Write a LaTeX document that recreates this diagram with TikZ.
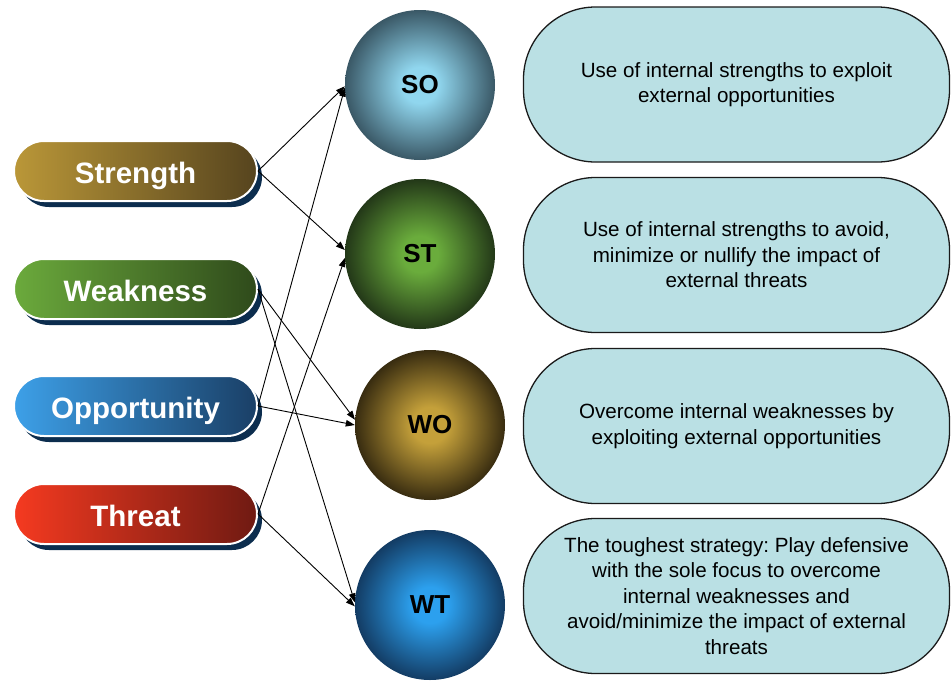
\documentclass[tikz,border=0pt]{standalone}
\usepackage{fontspec}
\setmainfont{Liberation Sans}
\usetikzlibrary{arrows.meta,shadows}
\frenchspacing

% pill colours
\definecolor{strL}{HTML}{BA9738}\definecolor{strR}{HTML}{56441E}
\definecolor{weaL}{HTML}{6BAA3C}\definecolor{weaR}{HTML}{2F4A1B}
\definecolor{oppL}{HTML}{3DA0E8}\definecolor{oppR}{HTML}{1A3F66}
\definecolor{thrL}{HTML}{F53A20}\definecolor{thrR}{HTML}{6F1A12}
\definecolor{pillshadow}{HTML}{0C2D4E}
% ball colours
\definecolor{soC}{HTML}{90D6EE}\definecolor{soE}{HTML}{3A5866}
\definecolor{stC}{HTML}{6AAC3C}\definecolor{stE}{HTML}{233818}
\definecolor{woC}{HTML}{C4A03A}\definecolor{woE}{HTML}{382C10}
\definecolor{wtC}{HTML}{2CA0EE}\definecolor{wtE}{HTML}{133C64}
% description boxes
\definecolor{boxfill}{HTML}{BAE0E4}
\definecolor{boxline}{HTML}{1A1A1A}

\pgfdeclareradialshading{soball}{\pgfpoint{0bp}{0bp}}{color(0bp)=(soC); color(6bp)=(soC); color(25bp)=(soE); color(50bp)=(soE)}
\pgfdeclareradialshading{stball}{\pgfpoint{0bp}{0bp}}{color(0bp)=(stC); color(6bp)=(stC); color(25bp)=(stE); color(50bp)=(stE)}
\pgfdeclareradialshading{woball}{\pgfpoint{0bp}{0bp}}{color(0bp)=(woC); color(6bp)=(woC); color(25bp)=(woE); color(50bp)=(woE)}
\pgfdeclareradialshading{wtball}{\pgfpoint{0bp}{0bp}}{color(0bp)=(wtC); color(6bp)=(wtC); color(25bp)=(wtE); color(50bp)=(wtE)}

\tikzset{
  pill/.style={rectangle, rounded corners=30pt, minimum width=243pt, minimum height=60pt,
    draw=white, line width=2pt, text=white, text height=25pt, text depth=0pt,
    font=\fontsize{29.5}{34}\selectfont\bfseries,
    drop shadow={shadow xshift=5pt, shadow yshift=-6pt, fill=pillshadow, opacity=1}},
  ball/.style={circle, minimum size=150pt, inner sep=0pt,
    font=\fontsize{26}{30}\selectfont\bfseries},
  descbox/.style={rectangle, rounded corners=72pt, minimum width=426pt, minimum height=155pt,
    fill=boxfill, draw=boxline, line width=1.3pt, align=center,
    font=\fontsize{20.6}{25.5}\selectfont},
  link/.style={-{Triangle[length=9pt,width=6.5pt]}, line width=0.9pt, black}
}

\begin{document}
\begin{tikzpicture}[x=1pt,y=-1pt]
  \useasboundingbox (0,0) rectangle (951,681);

  % SWOT factors
  \node[pill, left color=strL, right color=strR] (s) at (135.5,171) {Strength};
  \node[pill, left color=weaL, right color=weaR] (w) at (135.5,289) {Weakness};
  \node[pill, left color=oppL, right color=oppR] (o) at (135.5,406) {Opportunity};
  \node[pill, left color=thrL, right color=thrR] (t) at (135.5,514) {Threat};

  % strategy balls
  \node[ball, shading=soball] (so) at (420,85) {SO};
  \node[ball, shading=stball] (st) at (420,254) {ST};
  \node[ball, shading=woball] (wo) at (430,425) {WO};
  \node[ball, shading=wtball] (wt) at (430,605) {WT};

  % strategy descriptions
  \node[descbox] (dso) at (736.5,84.5) {Use of internal strengths to exploit\\external opportunities};
  \node[descbox] (dst) at (736.5,255) {Use of internal strengths to avoid,\\minimize or nullify the impact of\\external threats};
  \node[descbox] (dwo) at (736.5,426) {Overcome internal weaknesses by\\exploiting external opportunities};
  \node[descbox] (dwt) at (736.5,596) {The toughest strategy: Play defensive\\with the sole focus to overcome\\internal weaknesses and\\avoid/minimize the impact of external\\threats};

  % factor-to-strategy links
  \draw[link] (s.east) -- (so.181);
  \draw[link] (s.east) -- (st.177);
  \draw[link] (w.east) -- (wo.176);
  \draw[link] (w.east) -- (wt.178);
  \draw[link] (o.east) -- (so.182);
  \draw[link] (o.east) -- (wo.180);
  \draw[link] (t.east) -- (st.183);
  \draw[link] (t.east) -- (wt.181);
\end{tikzpicture}
\end{document}
